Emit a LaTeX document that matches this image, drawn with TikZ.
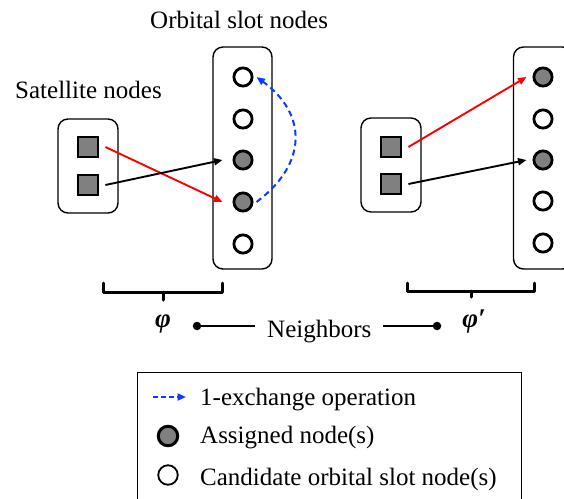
\documentclass[tikz,border=0pt]{standalone}
\usepackage{fontspec}
\setmainfont{Liberation Serif}
\usetikzlibrary{arrows.meta}
\definecolor{nodegray}{HTML}{808080}
\definecolor{exblue}{HTML}{0A3CFF}
\definecolor{linkred}{HTML}{FF0000}
\begin{document}
\begin{tikzpicture}[x=1pt,y=-1pt,
  txt/.style={font=\fontsize{25}{30}\selectfont, inner sep=0pt},
  assigned/.style={circle, draw, line width=2.8pt, fill=nodegray, minimum size=18.2pt, inner sep=0pt},
  candidate/.style={circle, draw, line width=2.8pt, fill=white, minimum size=18.2pt, inner sep=0pt},
  sat/.style={rectangle, draw, line width=2.8pt, fill=nodegray, minimum size=20pt, inner sep=0pt},
  group/.style={rectangle, draw, rounded corners=10pt, line width=1.4pt, inner sep=0pt, minimum width=60pt},
  link/.style={line width=1.9pt, -{Triangle[length=8.5pt,width=7pt]}},
  exchange/.style={exblue, line width=2pt, dash pattern=on 6pt off 4pt, -{Triangle[length=8.5pt,width=7pt]}},
  brace/.style={line width=3pt, line join=round, line cap=round},
  dot/.style={circle, fill, inner sep=0pt, minimum size=8.5pt},
  sym/.style={font=\fontsize{27}{30}\selectfont\bfseries\itshape, inner sep=0pt},
]
\useasboundingbox (0,0) rectangle (564,498);
\clip (0,0) rectangle (564,498);

% titles
\node[txt, anchor=base west] (title) at (150,28) {Orbital slot nodes};
\node[txt, anchor=base west] (sattitle) at (15,98) {Satellite nodes};

% ---- left configuration ----
\node[group, minimum height=94pt] (lsat) at (88,166) {};
\node[group, minimum height=222pt, minimum width=59pt] (lorb) at (242.5,158) {};
\node[sat] (s1) at (88,147) {};
\node[sat] (s2) at (88,185) {};
\node[candidate] (c1) at (243,77) {};
\node[candidate] (c2) at (243,119) {};
\node[assigned] (c3) at (243,160) {};
\node[assigned] (c4) at (243,202) {};
\node[candidate] (c5) at (243,244) {};
\draw[link, linkred] ([xshift=6pt]s1.east) -- ([xshift=-10pt]c4.west);
\draw[link] ([xshift=6pt]s2.east) -- ([xshift=-10pt]c3.west);
\draw[exchange] ([xshift=3pt]c4.east) .. controls +(51,-38) and +(51,37) .. ([xshift=3pt]c1.east);

% ---- right configuration ----
\node[group, minimum height=94pt] (rsat) at (391,165) {};
\node[group, minimum height=222pt, minimum width=59pt] (rorb) at (543,158) {};
\node[sat] (rs1) at (391,147) {};
\node[sat] (rs2) at (391,184) {};
\node[assigned] (rc1) at (543,77) {};
\node[candidate] (rc2) at (543,119) {};
\node[assigned] (rc3) at (543,160) {};
\node[candidate] (rc4) at (543,201) {};
\node[candidate] (rc5) at (543,243) {};
\draw[link, linkred] ([xshift=6pt]rs1.east) -- ([xshift=-6pt]rc1.west);
\draw[link] ([xshift=6pt]rs2.east) -- ([xshift=-6pt]rc3.west);

% ---- braces ----
\draw[brace] (103,283) -- (103,292) -- (222,292) -- (222,283);
\draw[brace] (163,292) -- (163,300);
\draw[brace] (407,283) -- (407,291) -- (534,291) -- (534,283);
\draw[brace] (471,291) -- (471,297);
\node[sym] (phi) at (163,324) {φ};
\node[sym] (phip) at (474,322) {φ′};

% ---- neighbors ----
\node[txt, anchor=base west] (nb) at (267,337) {Neighbors};
\node[dot] (nl) at (197,326) {};
\node[dot] (nr) at (437,326) {};
\draw[line width=1.1pt, shorten >=12pt] (nl.center) -- (nl.center -| nb.west);
\draw[line width=1.1pt, shorten <=11pt] (nr.center -| nb.east) -- (nr.center);

% ---- legend ----
\node[draw, rectangle, line width=1.4pt, minimum width=384pt, minimum height=140pt, anchor=north west, inner sep=0pt] (legend) at (137,372) {};
\coordinate (la1) at (153,397);
\coordinate (la2) at (186,397);
\draw[exchange, dash pattern=on 5pt off 3pt] (la1) -- (la2);
\node[txt, anchor=base west] (l1) at (200,405) {1-exchange operation};
\node[assigned, line width=3pt, minimum size=19.5pt] (lg) at (168,436) {};
\node[txt, anchor=base west] (l2) at (200,443) {Assigned node(s)};
\node[candidate, line width=1.8pt, minimum size=19.5pt] (lw) at (168,475) {};
\node[txt, anchor=base west] (l3) at (200,485) {Candidate orbital slot node(s)};
\end{tikzpicture}
\end{document}
